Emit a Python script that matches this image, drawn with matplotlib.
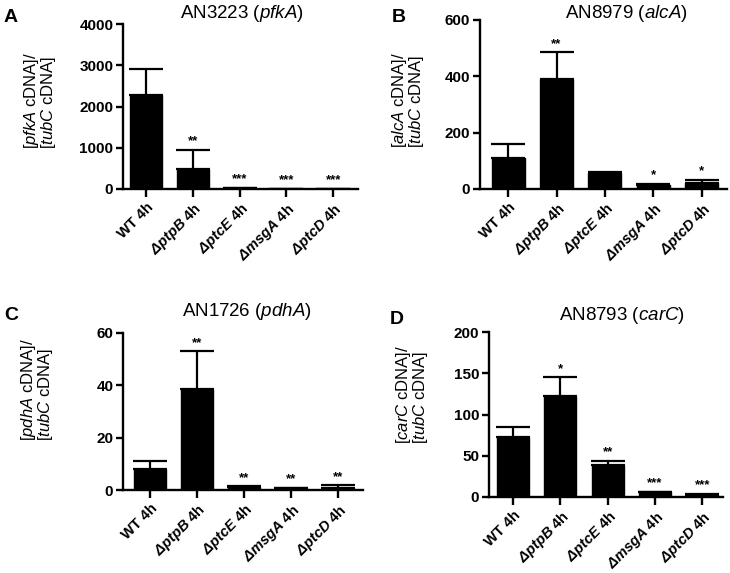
import matplotlib
matplotlib.use("Agg")
import matplotlib.pyplot as plt

plt.rcParams['font.family'] = ['Liberation Sans', 'DejaVu Sans']
plt.rcParams['mathtext.fontset'] = 'custom'
plt.rcParams['mathtext.rm'] = 'Liberation Sans'
plt.rcParams['mathtext.it'] = 'Liberation Sans:italic'
plt.rcParams['mathtext.bf'] = 'Liberation Sans:bold:italic'

strains = ['WT 4h', r'$\mathbf{ΔptpB}$ 4h', r'$\mathbf{ΔptcE}$ 4h',
           r'$\mathbf{ΔmsgA}$ 4h', r'$\mathbf{ΔptcD}$ 4h']

genes = ['pfkA', 'alcA', 'pdhA', 'carC']
ids = ['AN3223', 'AN8979', 'AN1726', 'AN8793']
letters = ['A', 'B', 'C', 'D']

pfkA_mean = [2290, 475, 20, 8, 8]
pfkA_err = [610, 470, 5, 3, 3]
alcA_mean = [111, 390, 58, 14, 20]
alcA_err = [49, 95, 2, 4, 12]
pdhA_mean = [8.2, 38.6, 1.0, 0.6, 0.8]
pdhA_err = [2.7, 14.4, 0.5, 0.2, 1.0]
carC_mean = [73, 122, 38.6, 5.8, 3.0]
carC_err = [11.5, 23, 4.9, 0.8, 0.5]

pfkA_sig = ['', '**', '***', '***', '***']
alcA_sig = ['', '**', '', '*', '*']
pdhA_sig = ['', '**', '**', '**', '**']
carC_sig = ['', '*', '**', '***', '***']

yticks = [[0, 1000, 2000, 3000, 4000], [0, 200, 400, 600],
          [0, 20, 40, 60], [0, 50, 100, 150, 200]]

means = [pfkA_mean, alcA_mean, pdhA_mean, carC_mean]
errs = [pfkA_err, alcA_err, pdhA_err, carC_err]
sigs = [pfkA_sig, alcA_sig, pdhA_sig, carC_sig]

W, H = 730, 573
fig = plt.figure(figsize=(7.3, 5.73), dpi=100)

# axes boxes in pixels: left, right, top, bottom
boxes = [(123, 358, 24, 189), (480, 727, 20, 189),
         (123, 363, 333, 490), (489, 723, 332, 497)]
xlims = [(-0.49, 4.53), (-0.58, 4.52), (-0.57, 4.53), (-0.51, 4.44)]
title_pos = [(242, 14), (626, 14), (247, 312), (622, 315)]
letter_pos = [(4, 17), (392, 17), (4, 315), (390, 320)]
ylab_pos = [(40, 100), (408, 100), (37, 390), (412, 395)]

for i in range(4):
    l, r, t, b = boxes[i]
    ax = fig.add_axes([l / W, 1 - b / H, (r - l) / W, (b - t) / H])
    x = list(range(5))
    m = means[i]
    e = errs[i]
    ax.bar(x, m, width=0.68, color='black', edgecolor='black', zorder=2)
    ax.errorbar(x, m, yerr=[[0] * 5, e], fmt='none', ecolor='black',
                elinewidth=1.6, capsize=12, capthick=1.6, zorder=1)
    top = yticks[i][-1]
    for xi, mi, ei, s in zip(x, m, e, sigs[i]):
        if s:
            ax.text(xi, mi + ei + top * 0.015, s, ha='center', va='bottom',
                    fontsize=9.5, fontweight='bold')
    ax.set_xlim(*xlims[i])
    ax.set_ylim(0, top)
    ax.set_yticks(yticks[i])
    ax.set_xticks(x)
    ax.set_xticklabels(strains, rotation=45, ha='right', rotation_mode='anchor',
                       fontsize=10.5, fontweight='bold')
    for lab in ax.get_yticklabels():
        lab.set_fontweight('bold')
        lab.set_fontsize(11)
    ax.spines['top'].set_visible(False)
    ax.spines['right'].set_visible(False)
    ax.spines['left'].set_linewidth(1.7)
    ax.spines['bottom'].set_linewidth(1.7)
    ax.tick_params(axis='both', width=1.7, length=5, pad=2)
    ax.tick_params(axis='x', length=6)

    g = genes[i]
    fig.text(title_pos[i][0] / W, 1 - title_pos[i][1] / H,
             ids[i] + ' ($\\mathit{' + g + '}$)', ha='center', va='center',
             fontsize=13.5)
    fig.text(letter_pos[i][0] / W, 1 - letter_pos[i][1] / H, letters[i],
             ha='left', va='center', fontsize=14, fontweight='bold')
    fig.text(ylab_pos[i][0] / W, 1 - ylab_pos[i][1] / H,
             '[$\\mathit{' + g + '}$ cDNA]/\n[$\\mathit{tubC}$ cDNA]',
             ha='center', va='center', rotation=90, fontsize=12,
             multialignment='left', linespacing=0.9)

fig.savefig('out.png', dpi=100)
